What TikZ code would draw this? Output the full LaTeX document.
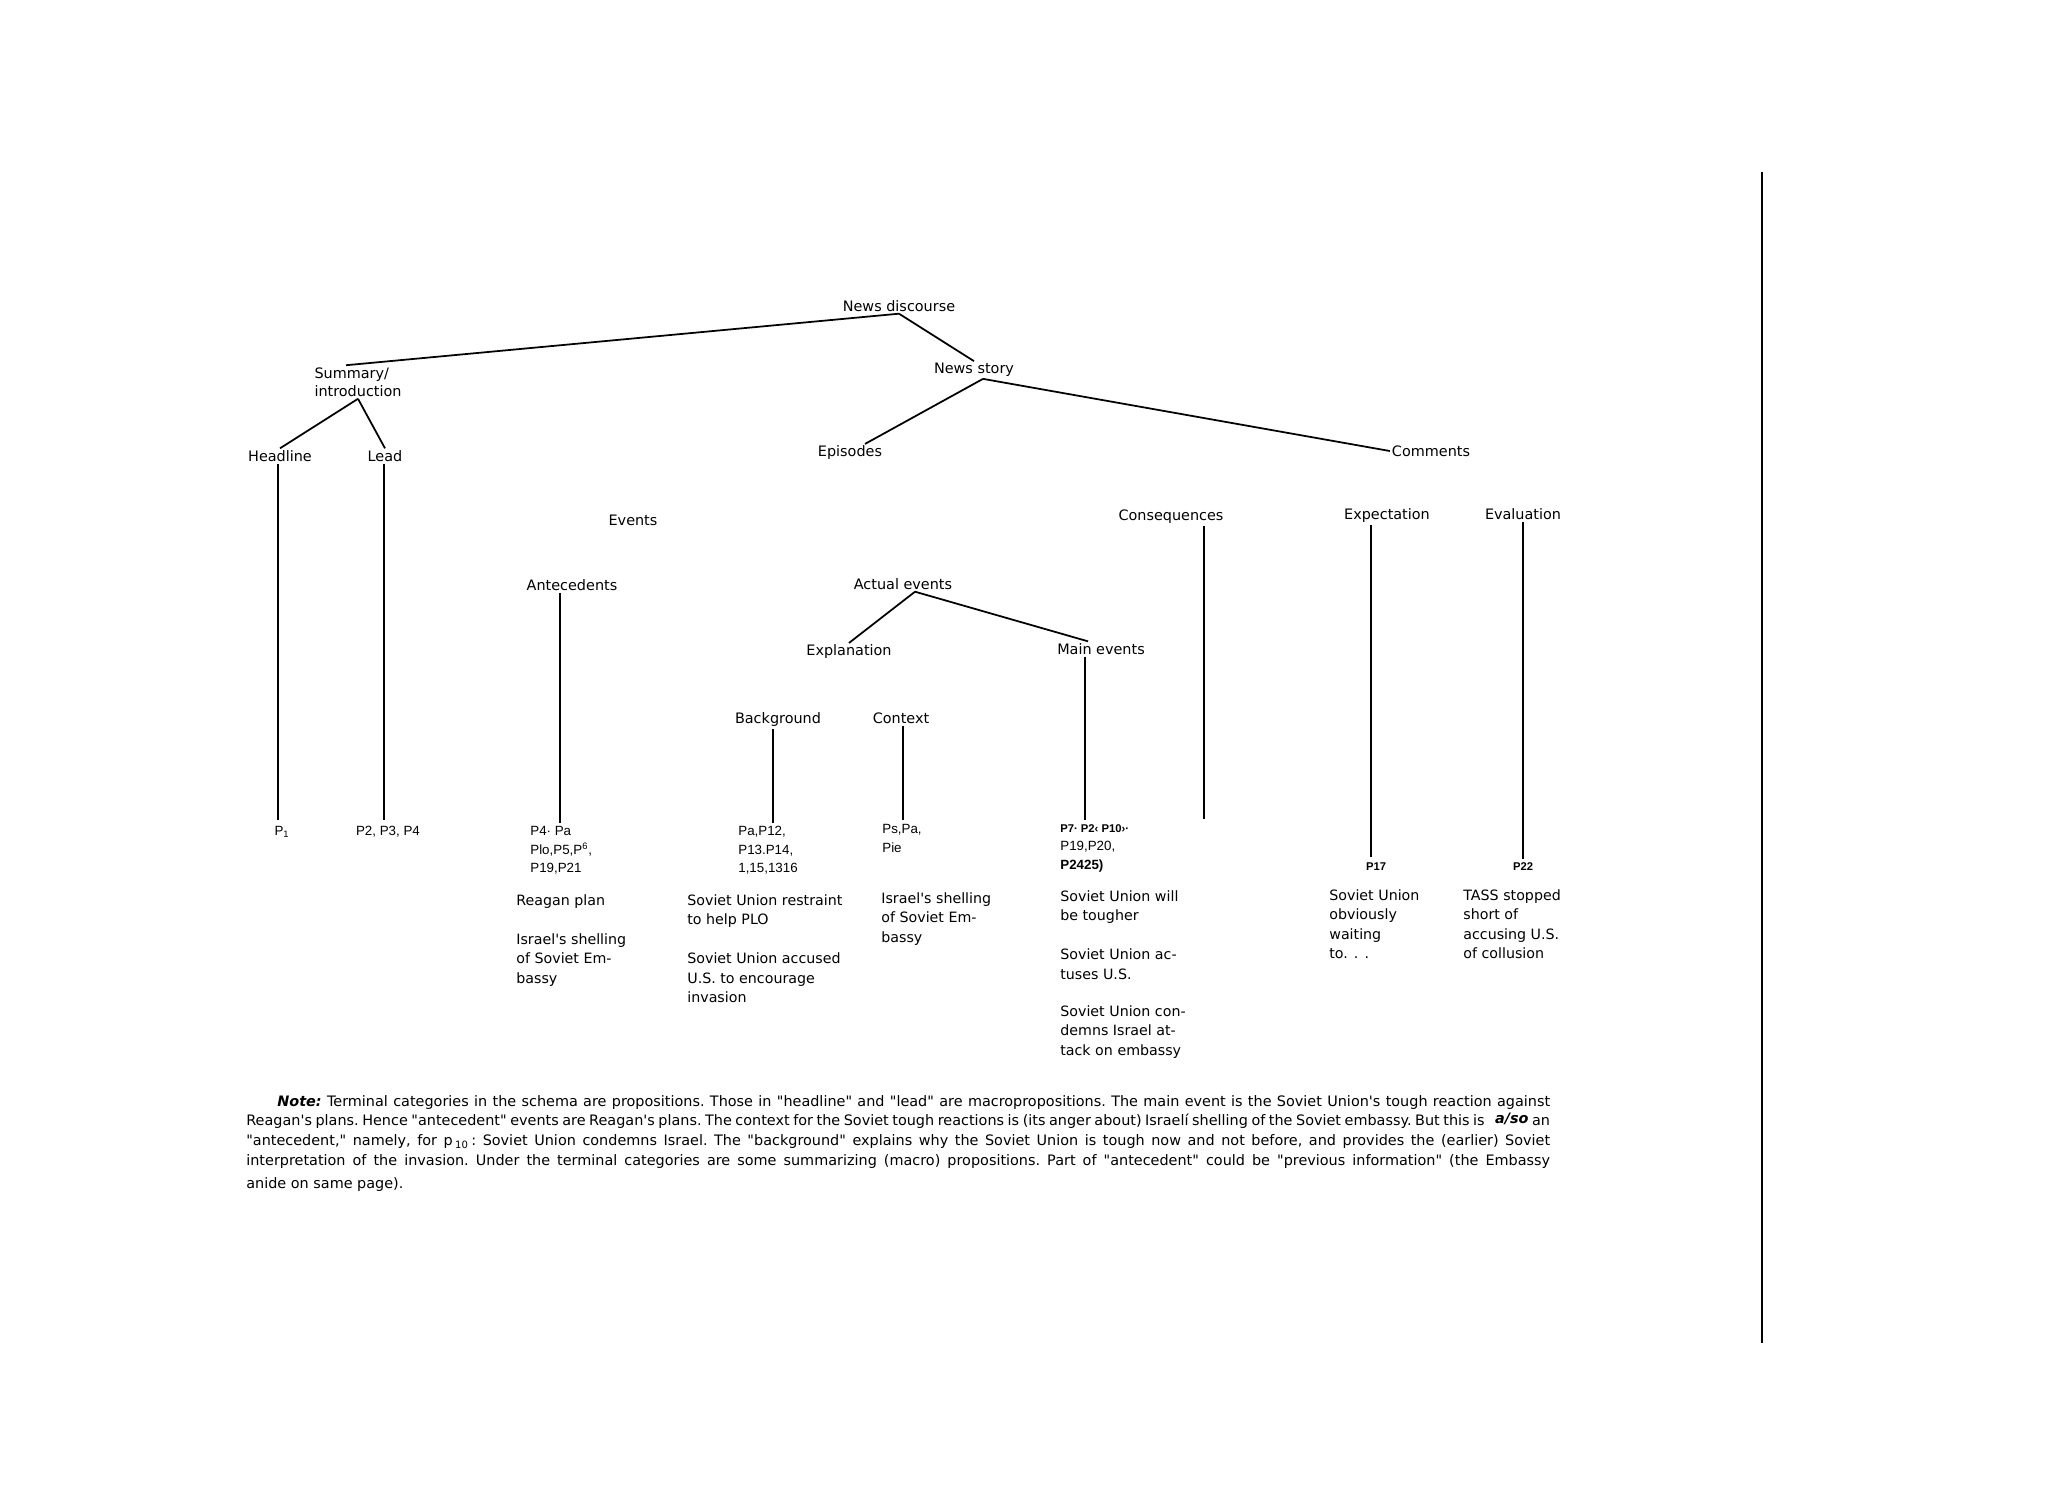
\documentclass[tikz,border=0pt]{standalone}
\usepackage{fontspec}
\setmainfont{DejaVu Sans}[Ligatures=TeXOff]
\newfontfamily\pfont{Liberation Sans}
\newcommand{\noteline}[1]{{\frenchspacing\spaceskip=0.318em plus 0.25em minus 0.12em\relax\makebox[26.08cm][s]{#1}}}

\tikzset{
  cat/.style={font=\fontsize{8.2}{10.5}\selectfont, inner sep=1pt},
  desc/.style={font=\fontsize{8.1}{11.1}\selectfont, align=left, anchor=north west, inner sep=0pt},
  term/.style={font=\pfont\fontsize{7.6}{10.5}\selectfont, align=left, anchor=north west, inner sep=0pt},
  note/.style={font=\fontsize{8.2}{11.2}\selectfont, align=left, anchor=north west, inner sep=0pt},
  branch/.style={line width=1pt},
  stem/.style={line width=1.1pt}
}

\begin{document}
\begin{tikzpicture}[x=0.02cm, y=-0.02cm]
    \useasboundingbox (0,0) rectangle (2048,1492);
    % categories
    \node[cat] (disc) at (899,306) {News discourse};
    \node[cat, align=left] (summ) at (358,382) {Summary/\\introduction};
    \node[cat] (story) at (974,370) {News story};
    \node[cat] (head) at (280,456) {Headline};
    \node[cat] (lead) at (385,456) {Lead};
    \node[cat] (epis) at (850,453) {Episodes};
    \node[cat] (comm) at (1431,451) {Comments};
    \node[cat] (events) at (633,520) {Events};
    \node[cat] (cons) at (1171,517) {Consequences};
    \node[cat] (expe) at (1387,516) {Expectation};
    \node[cat] (eval) at (1523,514) {Evaluation};
    \node[cat] (ante) at (572,585) {Antecedents};
    \node[cat] (actual) at (903,584) {Actual events};
    \node[cat] (expl) at (849,652) {Explanation};
    \node[cat] (main) at (1101,649) {Main events};
    \node[cat] (back) at (778,720) {Background};
    \node[cat] (cont) at (901,718) {Context};
    % branches
    \draw[branch] (disc.south) -- ([xshift=-0.24cm]summ.north);
    \draw[branch] (disc.south) -- (story.north);
    \draw[branch] (summ.south) -- (head.north);
    \draw[branch] (summ.south) -- (lead.north);
    \draw[branch] ([xshift=0.18cm]story.south) -- ([xshift=0.3cm]epis.north);
    \draw[branch] ([xshift=0.18cm]story.south) -- (comm.west);
    \draw[branch] ([xshift=0.24cm]actual.south) -- (expl.north);
    \draw[branch] ([xshift=0.24cm]actual.south) -- ([xshift=-0.26cm]main.north);
    % terminal propositions
    \node[term, anchor=center] (head-p) at (282,832) {P\textsubscript{1}};
    \node[term, anchor=center] (lead-p) at (388,832) {P2, P3, P4};
    \node[term] (ante-p) at (530,826) {P4· Pa\\Plo,P5,P\textsuperscript{6},\\P19,P21};
    \node[term] (back-p) at (738,826) {Pa,P12,\\P13.P14,\\1,15,1316};
    \node[term] (cont-p) at (882,824) {Ps,Pa,\\Pie};
    \node[term] (main-p) at (1060,824) {\textbf{\fontsize{6.4}{10.5}\selectfont P7· P2‹ P10›·}\\P19,P20,\\\textbf{P2425)}};
    \node[term, anchor=center] (expe-p) at (1376,867) {\textbf{\fontsize{6.4}{8}\selectfont P17}};
    \node[term, anchor=center] (eval-p) at (1523,867) {\textbf{\fontsize{6.4}{8}\selectfont P22}};
    % stems
    \coordinate (head-bot) at (278,820);
    \coordinate (lead-bot) at (384,820);
    \coordinate (ante-bot) at (560,823);
    \coordinate (back-bot) at (773,823);
    \coordinate (cont-bot) at (903,820);
    \coordinate (main-bot) at (1085,820);
    \coordinate (cons-bot) at (1204,819);
    \coordinate (expe-bot) at (1371,857);
    \coordinate (eval-bot) at (1523,859);
    \foreach \n in {head,lead,ante,back,cont,main,cons,expe,eval}
        \draw[stem] (\n.south -| \n-bot) -- (\n-bot);
    % summaries
    \node[desc] (ante-d) at (516,894) {Reagan plan\\[11pt]Israel's shelling\\of Soviet Em-\\bassy};
    \node[desc] (back-d) at (687,894) {Soviet Union restraint\\to help PLO\\[11pt]Soviet Union accused\\U.S. to encourage\\invasion};
    \node[desc] (cont-d) at (881,892) {Israel's shelling\\of Soviet Em-\\bassy};
    \node[desc] (main-d) at (1060,890) {Soviet Union will\\be tougher\\[11pt]Soviet Union ac-\\tuses U.S.\\[10pt]Soviet Union con-\\demns Israel at-\\tack on embassy};
    \node[desc] (expe-d) at (1329,889) {Soviet Union\\obviously\\waiting\\to. . .};
    \node[desc] (eval-d) at (1463,889) {TASS stopped\\short of\\accusing U.S.\\of collusion};
    % note
    \node[note] (note) at (246,1095) {\noteline{\hspace*{0.62cm}\textbf{\textit{Note:}} Terminal categories in the schema are propositions. Those in "headline" and "lead" are macropropositions. The main event is the Soviet Union's tough reaction against}\\
    \noteline{Reagan's plans. Hence "antecedent" events are Reagan's plans. The context for the Soviet tough reactions is (its anger about) Israelí shelling of the Soviet embassy. But this is\hspace{4pt} \raisebox{1.5pt}{\textbf{\textit{a/so}}} an}\\
    \noteline{"antecedent," namely, for p\,\textsubscript{10}\,: Soviet Union condemns Israel. The "background" explains why the Soviet Union is tough now and not before, and provides the (earlier) Soviet}\\
    \noteline{interpretation of the invasion. Under the terminal categories are some summarizing (macro) propositions. Part of "antecedent" could be "previous information" (the Embassy}\\[2pt]
    anide on same page).};
    % margin rule
    \draw[line width=1pt] (1762,172) -- (1762,1343);
\end{tikzpicture}
\end{document}
